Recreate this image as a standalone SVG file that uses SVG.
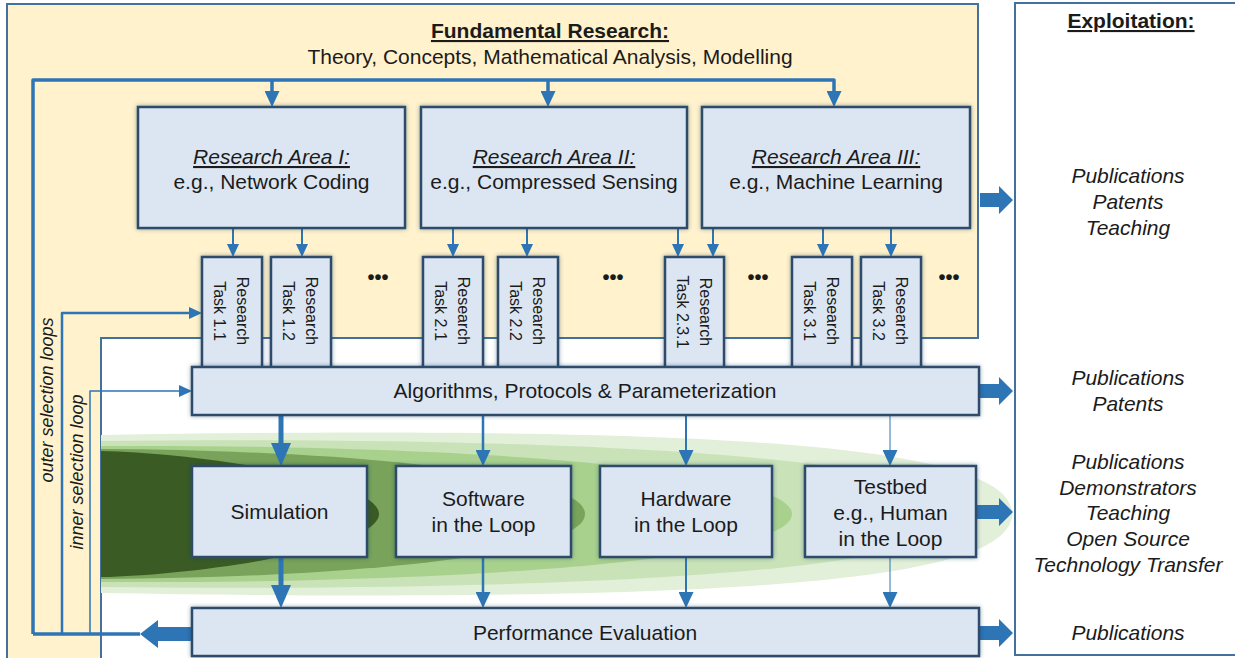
<svg xmlns="http://www.w3.org/2000/svg" width="1235" height="658" viewBox="0 0 1235 658">
<style>
text{font-family:"Liberation Sans",Arial,sans-serif;fill:#1b1b1b;font-size:21px;text-anchor:middle}
.it{font-style:italic}
.b{font-weight:bold}
.u{text-decoration:underline}
.task{font-size:16px}
.dots{font-size:20px;font-weight:bold}
.lbl{font-size:18px;font-style:italic}
.box{fill:#dce6f2;stroke:#2f4c6c;stroke-width:2.5;filter:url(#sh)}
.ln{fill:none;stroke:#2e75b6;stroke-linejoin:round}
.fat{fill:#2e75b6}
</style>
<defs>
<filter id="sh" x="-10%" y="-10%" width="120%" height="120%">
<feDropShadow dx="0" dy="0" stdDeviation="2.2" flood-color="#1f3a5a" flood-opacity="0.45"/>
</filter>
<marker id="aL" viewBox="0 0 23 20" refX="0" refY="10" markerWidth="23" markerHeight="20" markerUnits="userSpaceOnUse" orient="auto"><path d="M0,0 L23,10 L0,20 Z" fill="#2e75b6"/></marker>
<marker id="aM" viewBox="0 0 16 15" refX="0" refY="7.5" markerWidth="16" markerHeight="15" markerUnits="userSpaceOnUse" orient="auto"><path d="M0,0 L16,7.5 L0,15 Z" fill="#2e75b6"/></marker>
<marker id="aS" viewBox="0 0 13 12" refX="0" refY="6" markerWidth="13" markerHeight="12" markerUnits="userSpaceOnUse" orient="auto"><path d="M0,0 L13,6 L0,12 Z" fill="#2e75b6"/></marker>
</defs>
<rect width="1235" height="658" fill="#ffffff"/>
<g id="fundamental">
<path d="M7,4 H978 V338 H101 V660 H7 Z" fill="#fff2cc" stroke="#41719c" stroke-width="2"/>
<text class="b u" x="550" y="38">Fundamental Research:</text>
<text x="550" y="64">Theory, Concepts, Mathematical Analysis, Modelling</text>
</g>
<g id="exploitation">
<rect x="1015" y="3" width="240" height="652" fill="#ffffff" stroke="#41719c" stroke-width="2"/>
<text class="b u" x="1131" y="28">Exploitation:</text>
<text class="it" x="1128" y="183">Publications</text>
<text class="it" x="1128" y="209">Patents</text>
<text class="it" x="1128" y="235">Teaching</text>
<text class="it" x="1128" y="385">Publications</text>
<text class="it" x="1128" y="411">Patents</text>
<text class="it" x="1128" y="469">Publications</text>
<text class="it" x="1128" y="495">Demonstrators</text>
<text class="it" x="1128" y="520">Teaching</text>
<text class="it" x="1128" y="546">Open Source</text>
<text class="it" x="1128" y="572">Technology Transfer</text>
<text class="it" x="1128" y="640">Publications</text>
</g>
<g id="green-cones">
<path d="M101,435 C720,425 1012,445 1012,514 C1012,583 720,603 101,593 Z" fill="#e2efd9"/>
<path d="M101,441 C600,436 960,458 960,514 C960,570 600,592 101,587 Z" fill="#c9e2b8"/>
<path d="M101,446 C480,444 792,470 792,514 C792,558 480,584 101,582 Z" fill="#a9d18e"/>
<path d="M101,449 C340,450 585,472 585,514 C585,556 340,578 101,579 Z" fill="#79a35a"/>
<path d="M101,451 C200,453 379,480 379,514 C379,548 200,575 101,577 Z" fill="#3a5b24"/>
</g>
<g id="connectors">
<path class="ln" d="M33,634 V80 H834 V91" stroke-width="3.5" marker-end="url(#aM)"/>
<path class="ln" d="M272,80 V91" stroke-width="3.5" marker-end="url(#aM)"/>
<path class="ln" d="M548,80 V91" stroke-width="3.5" marker-end="url(#aM)"/>
<path class="ln" d="M140,634 H33" stroke-width="3.5"/>
<path class="ln" d="M62,634 V313 H189" stroke-width="2.5" marker-end="url(#aS)"/>
<path class="ln" d="M90,634 V391 H179" stroke-width="1.5" marker-end="url(#aS)"/>
<path class="ln" d="M233,228 V244" stroke-width="2" marker-end="url(#aS)"/>
<path class="ln" d="M302,228 V244" stroke-width="2" marker-end="url(#aS)"/>
<path class="ln" d="M453,228 V244" stroke-width="2" marker-end="url(#aS)"/>
<path class="ln" d="M527,228 V244" stroke-width="2" marker-end="url(#aS)"/>
<path class="ln" d="M678,228 V244" stroke-width="2" marker-end="url(#aS)"/>
<path class="ln" d="M713,228 V244" stroke-width="2" marker-end="url(#aS)"/>
<path class="ln" d="M823,228 V244" stroke-width="2" marker-end="url(#aS)"/>
<path class="ln" d="M891,228 V244" stroke-width="2" marker-end="url(#aS)"/>
<path class="ln" d="M281,415 V443" stroke-width="5" marker-end="url(#aL)"/>
<path class="ln" d="M281,557 V585" stroke-width="5" marker-end="url(#aL)"/>
<path class="ln" d="M483,415 V450" stroke-width="2.5" marker-end="url(#aM)"/>
<path class="ln" d="M483,557 V592" stroke-width="2.5" marker-end="url(#aM)"/>
<path class="ln" d="M686,415 V450" stroke-width="2" marker-end="url(#aM)"/>
<path class="ln" d="M686,557 V592" stroke-width="2" marker-end="url(#aM)"/>
<path class="ln" d="M890,415 V450" stroke-width="1" marker-end="url(#aM)"/>
<path class="ln" d="M890,557 V592" stroke-width="1" marker-end="url(#aM)"/>
<path class="fat" d="M980,193 H999 V186 L1013,200 L999,214 V207 H980 Z"/>
<path class="fat" d="M980,384 H999 V377 L1013,391 L999,405 V398 H980 Z"/>
<path class="fat" d="M976,505 H999 V498 L1013,512 L999,526 V519 H976 Z"/>
<path class="fat" d="M980,626 H999 V619 L1013,633 L999,647 V640 H980 Z"/>
<path class="fat" d="M193,627 H158 V620 L140,634 L158,648 V641 H193 Z"/>
</g>
<g id="loop-labels">
<text class="lbl" transform="translate(53,400) rotate(-90)">outer selection loops</text>
<text class="lbl" transform="translate(83,472) rotate(-90)">inner selection loop</text>
</g>
<g id="area1">
<rect class="box" x="138" y="107" width="267" height="121"/>
<text class="it u" x="271.5" y="164">Research Area I:</text>
<text x="271.5" y="189">e.g., Network Coding</text>
</g>
<g id="area2">
<rect class="box" x="421" y="107" width="266" height="121"/>
<text class="it u" x="554" y="164">Research Area II:</text>
<text x="554" y="189">e.g., Compressed Sensing</text>
</g>
<g id="area3">
<rect class="box" x="702" y="107" width="268" height="121"/>
<text class="it u" x="836" y="164">Research Area III:</text>
<text x="836" y="189">e.g., Machine Learning</text>
</g>
<g id="task11"><rect class="box" x="202" y="257" width="60" height="112"/>
<text class="task" transform="translate(232,311) rotate(90)"><tspan x="0" y="-5">Research</tspan><tspan x="0" y="18">Task 1.1</tspan></text></g>
<g id="task12"><rect class="box" x="271" y="257" width="60" height="112"/>
<text class="task" transform="translate(301,311) rotate(90)"><tspan x="0" y="-5">Research</tspan><tspan x="0" y="18">Task 1.2</tspan></text></g>
<g id="task21"><rect class="box" x="423" y="257" width="60" height="112"/>
<text class="task" transform="translate(453,311) rotate(90)"><tspan x="0" y="-5">Research</tspan><tspan x="0" y="18">Task 2.1</tspan></text></g>
<g id="task22"><rect class="box" x="498" y="257" width="60" height="112"/>
<text class="task" transform="translate(528,311) rotate(90)"><tspan x="0" y="-5">Research</tspan><tspan x="0" y="18">Task 2.2</tspan></text></g>
<g id="task231"><rect class="box" x="665" y="257" width="59" height="112"/>
<text class="task" transform="translate(694.5,312) rotate(90)"><tspan x="0" y="-5">Research</tspan><tspan x="0" y="18">Task 2.3.1</tspan></text></g>
<g id="task31"><rect class="box" x="792" y="257" width="60" height="112"/>
<text class="task" transform="translate(822,311) rotate(90)"><tspan x="0" y="-5">Research</tspan><tspan x="0" y="18">Task 3.1</tspan></text></g>
<g id="task32"><rect class="box" x="861" y="257" width="60" height="112"/>
<text class="task" transform="translate(891,311) rotate(90)"><tspan x="0" y="-5">Research</tspan><tspan x="0" y="18">Task 3.2</tspan></text></g>
<g id="ellipses">
<text class="dots" x="378" y="284">•••</text>
<text class="dots" x="613" y="284">•••</text>
<text class="dots" x="758" y="284">•••</text>
<text class="dots" x="949" y="284">•••</text>
</g>
<g id="algorithms">
<rect class="box" x="192" y="367" width="787" height="48"/>
<text x="585" y="398">Algorithms, Protocols &amp; Parameterization</text>
</g>
<g id="simulation">
<rect class="box" x="192" y="466" width="175" height="91"/>
<text x="279.5" y="519">Simulation</text>
</g>
<g id="software">
<rect class="box" x="396" y="466" width="175" height="91"/>
<text x="483.5" y="506">Software</text>
<text x="483.5" y="532">in the Loop</text>
</g>
<g id="hardware">
<rect class="box" x="600" y="466" width="172" height="91"/>
<text x="686" y="506">Hardware</text>
<text x="686" y="532">in the Loop</text>
</g>
<g id="testbed">
<rect class="box" x="805" y="466" width="171" height="91"/>
<text x="890.5" y="494">Testbed</text>
<text x="890.5" y="520">e.g., Human</text>
<text x="890.5" y="546">in the Loop</text>
</g>
<g id="performance">
<rect class="box" x="192" y="608" width="787" height="48"/>
<text x="585" y="640">Performance Evaluation</text>
</g>
</svg>
